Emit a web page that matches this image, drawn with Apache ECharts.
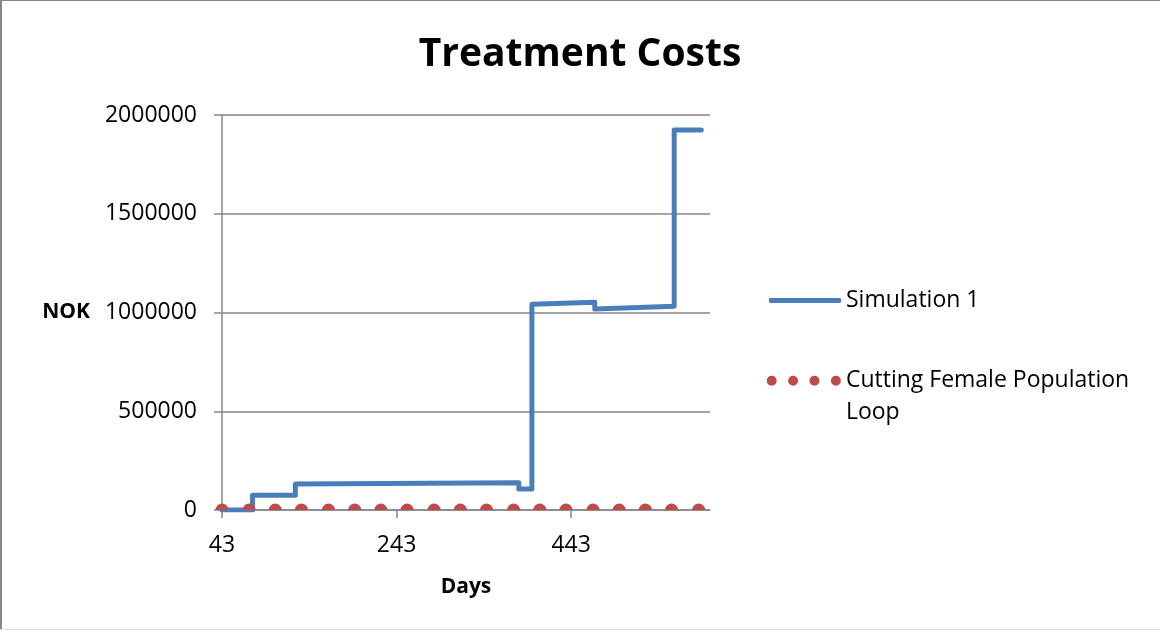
<!DOCTYPE html>
<html>
<head>
<meta charset="utf-8">
<script src="https://cdn.jsdelivr.net/npm/echarts@6/dist/echarts.min.js"></script>
<style>
  html, body { margin: 0; padding: 0; background: #fff; }
  #chart { width: 1160px; height: 630px; }
</style>
</head>
<body>
<div id="chart"></div>
<script>
// ---- data ----
const titleText = 'Treatment Costs';
const yAxisName = 'NOK';
const xAxisName = 'Days';
const xTickValues = [43, 243, 443];
const yTickMin = 0, yTickMax = 2000000, yTickStep = 500000;

const sim1Name = 'Simulation 1';
const sim1Days = [43, 78, 78, 127, 127, 383, 383, 398, 398, 470, 470, 561, 561, 592];
const sim1Cost = [0, 0, 75000, 75000, 132000, 138000, 106000, 106000, 1042000, 1052000, 1018000, 1032000, 1924000, 1924000];

const cutName = 'Cutting Female Population Loop';
const cutDays = [43, 74, 104, 134, 165, 195, 225, 255, 286, 316, 346, 377, 407, 437, 468, 498, 528, 558, 589];
const cutCost = [0, 0, 0, 0, 0, 0, 0, 0, 0, 0, 0, 0, 0, 0, 0, 0, 0, 0, 0];

const xMin = 43, xMax = 602;

// ---- chart ----
const FONT = '"Open Sans", "Noto Sans", sans-serif';
const BLUE = '#4a7ebb';
const RED = '#be4b48';
const GRAY = '#868686';

const zip = (a, b) => a.map((v, i) => [v, b[i]]);

// four dots at the top of a 42px-tall icon box (tiny mark at the bottom sets the box height)
const dotsIcon = 'path://M0,5a5,5 0 1,0 10,0a5,5 0 1,0 -10,0zM21.4,5a5,5 0 1,0 10,0a5,5 0 1,0 -10,0zM42.8,5a5,5 0 1,0 10,0a5,5 0 1,0 -10,0zM64.2,5a5,5 0 1,0 10,0a5,5 0 1,0 -10,0zM37,41.95h0.01v0.05h-0.01z';

const chart = echarts.init(document.getElementById('chart'), null, { renderer: 'canvas' });
chart.setOption({
  animation: false,
  backgroundColor: '#fff',
  textStyle: { fontFamily: FONT },
  title: {
    text: titleText,
    left: 'center',
    top: 30,
    textStyle: { fontFamily: FONT, fontSize: 39, fontWeight: 'bold', color: '#000', lineHeight: 40 }
  },
  grid: { left: 222, right: 450, top: 115, bottom: 120, containLabel: false },
  legend: [
    {
      data: [{ name: sim1Name, icon: 'roundRect' }],
      left: 769, top: 285, padding: 0,
      itemWidth: 72, itemHeight: 5,
      textStyle: { fontFamily: FONT, fontSize: 23, color: '#000', lineHeight: 31 }
    },
    {
      data: [{ name: cutName, icon: dotsIcon }],
      left: 766.7, top: 364.7, padding: 0,
      itemWidth: 74.2, itemHeight: 42,
      formatter: (n) => n.replace(' Loop', '\nLoop'),
      textStyle: { fontFamily: FONT, fontSize: 23, color: '#000', lineHeight: 32 }
    }
  ],
  xAxis: {
    type: 'value',
    min: xMin, max: xMax,
    name: xAxisName,
    nameLocation: 'middle',
    nameGap: 67,
    nameTextStyle: { fontFamily: FONT, fontSize: 21, fontWeight: 'bold', color: '#000' },
    splitLine: { show: false },
    axisLine: { show: true, onZero: false, lineStyle: { color: GRAY, width: 1.5 } },
    axisTick: { show: true, length: 8, customValues: xTickValues, lineStyle: { color: GRAY, width: 1.5 } },
    axisLabel: { customValues: xTickValues, margin: 24, fontFamily: FONT, fontSize: 23, color: '#000' }
  },
  yAxis: {
    type: 'value',
    min: yTickMin, max: yTickMax, interval: yTickStep,
    name: yAxisName,
    nameLocation: 'middle',
    nameRotate: 0,
    nameGap: 132,
    nameTextStyle: { fontFamily: FONT, fontSize: 21, fontWeight: 'bold', color: '#000' },
    axisLine: { show: true, lineStyle: { color: GRAY, width: 1.5 } },
    axisTick: { show: true, length: 8, lineStyle: { color: GRAY, width: 1.5 } },
    splitLine: { show: true, lineStyle: { color: GRAY, width: 1.5 } },
    axisLabel: { margin: 25, fontFamily: FONT, fontSize: 23, color: '#000', formatter: (v) => String(v) }
  },
  series: [
    {
      name: sim1Name,
      type: 'line',
      data: zip(sim1Days, sim1Cost),
      showSymbol: false,
      symbol: 'none',
      lineStyle: { color: BLUE, width: 5, join: 'round', cap: 'round' },
      itemStyle: { color: BLUE },
      z: 3
    },
    {
      name: cutName,
      type: 'line',
      data: zip(cutDays, cutCost),
      lineStyle: { width: 0, opacity: 0 },
      symbol: 'path://M0,10A10,10 0 0,1 20,10Z',
      symbolSize: [13, 6.5],
      symbolOffset: [0, '-50%'],
      showSymbol: true,
      showAllSymbol: true,
      itemStyle: { color: RED },
      z: 4
    }
  ],
  graphic: [
    { type: 'line', shape: { x1: 0, y1: 0.5, x2: 1160, y2: 0.5 }, style: { stroke: GRAY, lineWidth: 1 }, silent: true },
    { type: 'line', shape: { x1: 1, y1: 0, x2: 1, y2: 630 }, style: { stroke: GRAY, lineWidth: 2 }, silent: true },
    { type: 'line', shape: { x1: 0, y1: 629.5, x2: 1160, y2: 629.5 }, style: { stroke: '#e4e4e4', lineWidth: 1 }, silent: true }
  ]
});
</script>
</body>
</html>
